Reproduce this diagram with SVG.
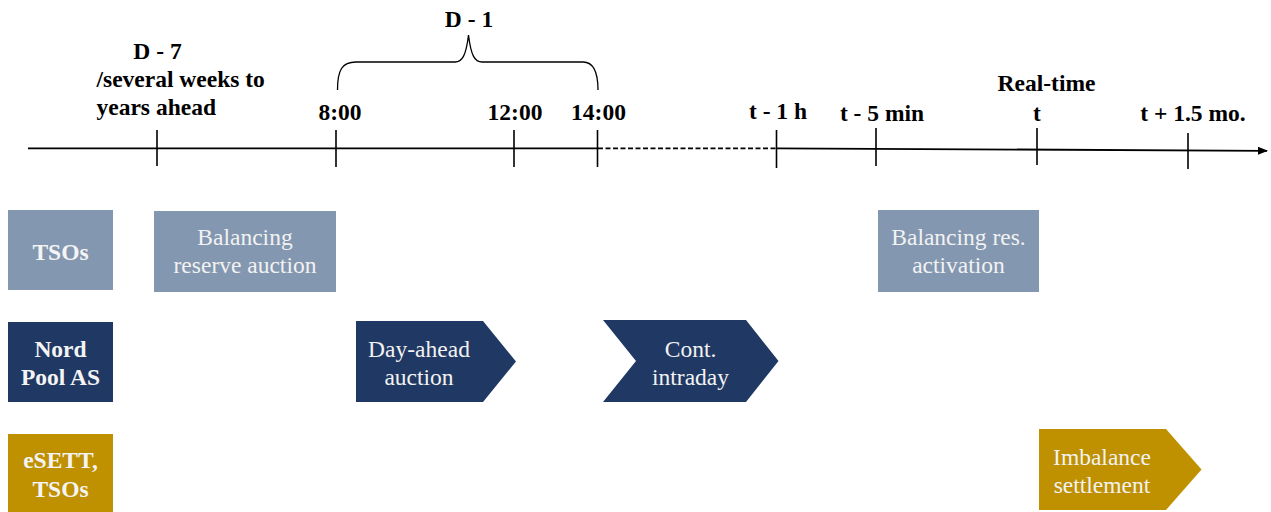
<svg xmlns="http://www.w3.org/2000/svg" width="1271" height="512" viewBox="0 0 1271 512">
  <style>
    .tl { font-family: "Liberation Serif", "Times New Roman", "DejaVu Serif", serif; font-weight: bold; font-size: 23.5px; fill: #000; text-anchor: middle; }
    .left { text-anchor: start; }
    .axis { stroke: #000; stroke-width: 1.8; fill: none; }
    .tick { stroke: #000; stroke-width: 1.6; }
    .lbl { font-family: "Liberation Serif", "Times New Roman", "DejaVu Serif", serif; font-weight: bold; font-size: 23.5px; fill: #F4F4F4; text-anchor: middle; }
    .act { font-family: "Liberation Serif", "Times New Roman", "DejaVu Serif", serif; font-size: 23.5px; fill: #F2F2F2; text-anchor: middle; }
    .tso { fill: #8497B0; }
    .np { fill: #203864; }
    .es { fill: #BF9000; }
  </style>
  <defs>
    <marker id="arrow" markerWidth="10" markerHeight="8" refX="9" refY="4" orient="auto" markerUnits="userSpaceOnUse">
      <path d="M0,0 L10,4 L0,8 Z" fill="#000"/>
    </marker>
  </defs>

  <rect width="1271" height="512" fill="#fff"/>

  <!-- timeline axis, ticks and D-1 brace -->
  <g id="connectors">
    <line class="axis" x1="28" y1="148.3" x2="598" y2="148.3"/>
    <line class="axis" x1="598" y1="148.3" x2="776" y2="148.3" stroke-dasharray="5 2.5" stroke-width="1.7"/>
    <line class="axis" x1="776" y1="148.3" x2="1267" y2="150.8" marker-end="url(#arrow)"/>
    <line class="tick" x1="157" y1="130" x2="157" y2="166"/>
    <line class="tick" x1="336" y1="130" x2="336" y2="167"/>
    <line class="tick" x1="514" y1="130" x2="514" y2="167"/>
    <line class="tick" x1="597.5" y1="130" x2="597.5" y2="167"/>
    <line class="tick" x1="776.5" y1="130" x2="776.5" y2="168"/>
    <line class="tick" x1="876" y1="128" x2="876" y2="166"/>
    <line class="tick" x1="1037" y1="128" x2="1037" y2="165"/>
    <line class="tick" x1="1188" y1="133" x2="1188" y2="169"/>
    <path d="M337.5,90 C337.5,70 342,62 356,62 L455,62 C462,62 466,56 468.5,35 C471,56 475,62 482,62 L583,62 C592,62 598,70 598,90" fill="none" stroke="#000" stroke-width="1.3"/>
  </g>

  <!-- timeline labels -->
  <g id="timeline-labels">
    <text class="tl" x="469" y="27">D - 1</text>
    <text class="tl" x="157.5" y="59">D - 7</text>
    <text class="tl left" x="96.5" y="87">/several weeks to</text>
    <text class="tl left" x="96.5" y="115">years ahead</text>
    <text class="tl" x="340" y="120">8:00</text>
    <text class="tl" x="515" y="120">12:00</text>
    <text class="tl" x="598.5" y="120">14:00</text>
    <text class="tl" x="778" y="119">t - 1 h</text>
    <text class="tl" x="882" y="121">t - 5 min</text>
    <text class="tl" x="1046.5" y="91">Real-time</text>
    <text class="tl" x="1037" y="121">t</text>
    <text class="tl" x="1193" y="121">t + 1.5 mo.</text>
  </g>

  <!-- actor labels -->
  <g id="tsos">
    <rect class="tso" x="8" y="210" width="105" height="80"/>
    <text class="lbl" x="60.5" y="260">TSOs</text>
  </g>
  <g id="nordpool">
    <rect class="np" x="8" y="322" width="105" height="80"/>
    <text class="lbl" x="60.5" y="357">Nord</text>
    <text class="lbl" x="60.5" y="385">Pool AS</text>
  </g>
  <g id="esett">
    <rect class="es" x="8" y="434" width="105" height="78"/>
    <text class="lbl" x="60.5" y="468">eSETT,</text>
    <text class="lbl" x="60.5" y="497">TSOs</text>
  </g>

  <!-- activities -->
  <g id="reserve-auction">
    <rect class="tso" x="154" y="211" width="182" height="81"/>
    <text class="act" x="245" y="245">Balancing</text>
    <text class="act" x="245" y="273">reserve auction</text>
  </g>
  <g id="day-ahead">
    <path class="np" d="M356,321 L483,321 L516,361.5 L483,402 L356,402 Z"/>
    <text class="act" x="419" y="357">Day-ahead</text>
    <text class="act" x="419" y="385">auction</text>
  </g>
  <g id="intraday">
    <path class="np" d="M603,320 L746,320 L778.5,361 L746,402 L603,402 L636,361 Z"/>
    <text class="act" x="690.5" y="357">Cont.</text>
    <text class="act" x="690.5" y="385">intraday</text>
  </g>
  <g id="activation">
    <rect class="tso" x="878" y="210" width="161" height="82"/>
    <text class="act" x="958.5" y="245">Balancing res.</text>
    <text class="act" x="958.5" y="273">activation</text>
  </g>
  <g id="settlement">
    <path class="es" d="M1039,429 L1166,429 L1201.5,469.5 L1166,510 L1039,510 Z"/>
    <text class="act" x="1102" y="465">Imbalance</text>
    <text class="act" x="1102" y="493">settlement</text>
  </g>
</svg>
